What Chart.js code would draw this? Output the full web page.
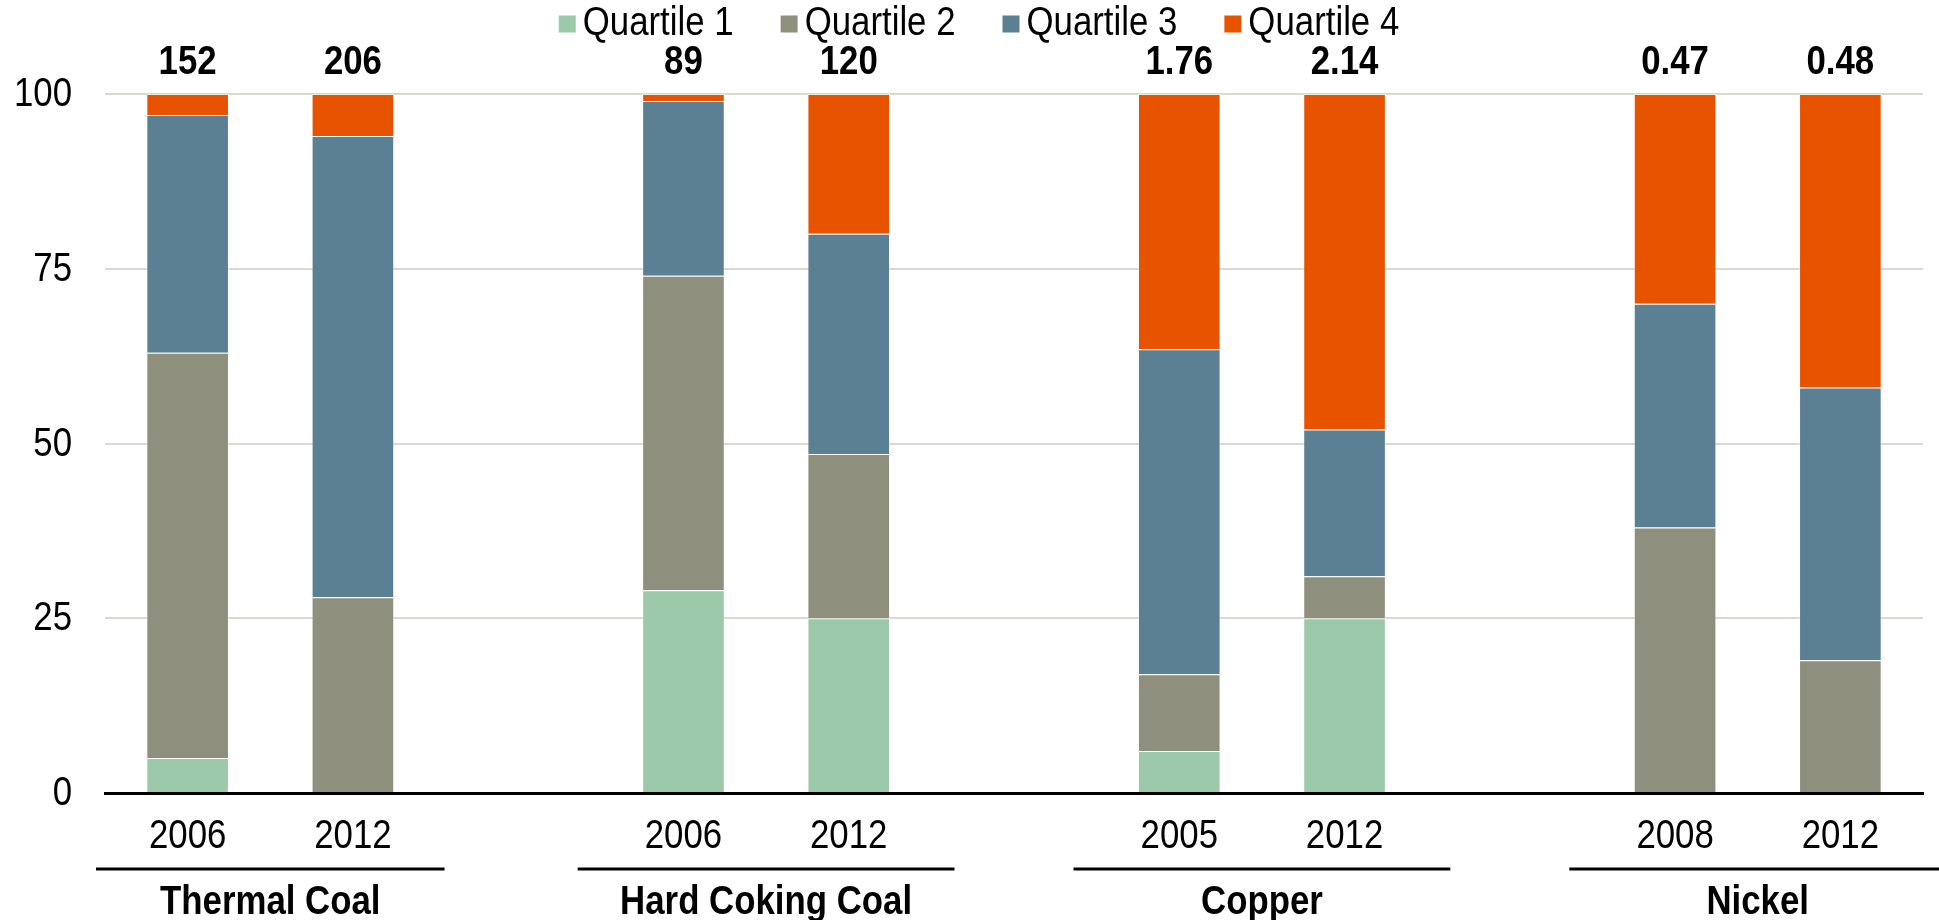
<!DOCTYPE html>
<html>
<head>
<meta charset="utf-8">
<script src="https://cdn.jsdelivr.net/npm/chart.js@4.4.0/dist/chart.umd.min.js"></script>
<style>
  html, body { margin: 0; padding: 0; background: #fff; }
  #wrap { width: 1939px; height: 920px; position: relative; }
</style>
</head>
<body>
<div id="wrap"><canvas id="costChart"></canvas></div>
<script>
// slots: two bars per commodity, one empty slot between groups
const years = ['2006', '2012', '', '2006', '2012', '', '2005', '2012', '', '2008', '2012'];
const groups = ['Thermal Coal', 'Hard Coking Coal', 'Copper', 'Nickel'];
const totals = ['152', '206', '', '89', '120', '', '1.76', '2.14', '', '0.47', '0.48'];

const quartile1 = [5, 0, null, 29, 25, null, 6, 25, null, 0, 0];
const quartile2 = [58, 28, null, 45, 23.5, null, 11, 6, null, 38, 19];
const quartile3 = [34, 66, null, 25, 31.5, null, 46.5, 21, null, 32, 39];
const quartile4 = [3, 6, null, 1, 20, null, 36.5, 48, null, 30, 42];

const yTicks = [0, 25, 50, 75, 100];

const FONT = "'Liberation Sans', Arial, sans-serif";
const SX = 0.87; // the original text is narrow and tall

function narrow(ctx, s, x, y, align) {
    ctx.save();
    ctx.translate(x, y);
    ctx.scale(SX, 1);
    ctx.textAlign = align;
    ctx.fillText(s, 0, 0);
    ctx.restore();
}

// legend, tick labels, totals above bars, group underlines + names
const extras = {
    id: 'extras',
    afterDraw(chart) {
        const ctx = chart.ctx;
        const x = chart.scales.x;
        const y = chart.scales.y;
        ctx.save();
        ctx.textBaseline = 'middle';
        ctx.fillStyle = '#000';

        // legend
        ctx.font = '40px ' + FONT;
        const items = chart.data.datasets.map(ds => ({ label: ds.label, color: ds.backgroundColor, w: ctx.measureText(ds.label).width * SX }));
        const box = 17, gap = 7, itemGap = 47;
        let total = 0;
        items.forEach((it, i) => { total += box + gap + it.w + (i < items.length - 1 ? itemGap : 0); });
        let lx = 979 - total / 2;
        const ly = 23;
        items.forEach(it => {
            ctx.fillStyle = it.color;
            ctx.fillRect(lx, ly - box / 2 + 1, box, box);
            ctx.fillStyle = '#000';
            narrow(ctx, it.label, lx + box + gap, ly + 1, 'left');
            lx += box + gap + it.w + itemGap;
        });

        // y tick labels
        yTicks.forEach(v => narrow(ctx, String(v), y.right - 33, y.getPixelForValue(v) + 1, 'right'));

        // x tick labels (years)
        years.forEach((yr, i) => { if (yr) narrow(ctx, yr, x.getPixelForValue(i), 837, 'center'); });

        // totals above each bar
        ctx.font = 'bold 40px ' + FONT;
        const top = y.getPixelForValue(100);
        totals.forEach((t, i) => {
            if (t) narrow(ctx, t, x.getPixelForValue(i), top - 31, 'center');
        });

        // group underline and name
        const slot = x.getPixelForValue(1) - x.getPixelForValue(0);
        groups.forEach((g, gi) => {
            const c = (x.getPixelForValue(gi * 3) + x.getPixelForValue(gi * 3 + 1)) / 2;
            const half = Math.min(slot * 1.14, c - 96);
            ctx.strokeStyle = '#000';
            ctx.lineWidth = 3;
            ctx.beginPath();
            ctx.moveTo(c - half, 869);
            ctx.lineTo(Math.min(c + half, chart.width), 869);
            ctx.stroke();
            narrow(ctx, g, c, 903, 'center');
        });
        ctx.restore();
    }
};

const border = 'rgba(255,255,255,0.45)';

new Chart(document.getElementById('costChart'), {
    type: 'bar',
    data: {
        labels: years,
        datasets: [
            { label: 'Quartile 1', data: quartile1, backgroundColor: '#9BC9A9', borderColor: border, borderWidth: 1 },
            { label: 'Quartile 2', data: quartile2, backgroundColor: '#8F8F7E', borderColor: border, borderWidth: 1 },
            { label: 'Quartile 3', data: quartile3, backgroundColor: '#5B7F93', borderColor: border, borderWidth: 1 },
            { label: 'Quartile 4', data: quartile4, backgroundColor: '#E85300', borderColor: border, borderWidth: 1 }
        ]
    },
    options: {
        responsive: true,
        maintainAspectRatio: false,
        animation: false,
        layout: { padding: { top: 94, right: 16, left: 0, bottom: 0 } },
        datasets: { bar: { categoryPercentage: 1, barPercentage: 0.5 } },
        plugins: {
            legend: { display: false },
            tooltip: { enabled: false }
        },
        scales: {
            x: {
                stacked: true,
                grid: { display: false, drawTicks: false },
                border: { display: true, color: '#000', width: 3 },
                ticks: { display: false },
                afterFit(scale) { scale.height = 127; }
            },
            y: {
                stacked: true,
                min: 0,
                max: 100,
                afterBuildTicks(scale) { scale.ticks = yTicks.map(v => ({ value: v })); },
                grid: {
                    drawTicks: false,
                    lineWidth: 2,
                    color: ctx => ctx.tick && ctx.tick.value === 0 ? 'rgba(0,0,0,0)' : '#D9D9CF'
                },
                border: { display: false },
                ticks: { display: false },
                afterFit(scale) { scale.width = 105; }
            }
        }
    },
    plugins: [extras]
});
</script>
</body>
</html>
